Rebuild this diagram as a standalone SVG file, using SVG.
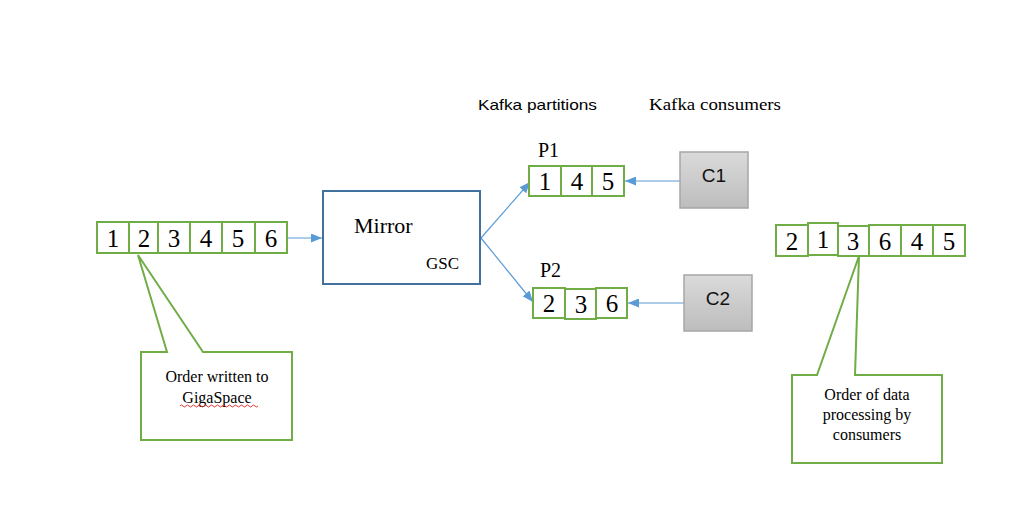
<svg xmlns="http://www.w3.org/2000/svg" width="1018" height="512" viewBox="0 0 1018 512">
<defs>
<linearGradient id="gray" x1="0" y1="0" x2="0" y2="1">
<stop offset="0" stop-color="#dadada"/>
<stop offset="1" stop-color="#bdbdbd"/>
</linearGradient>
<marker id="arr" markerWidth="11" markerHeight="9" refX="11" refY="4.5" orient="auto" markerUnits="userSpaceOnUse">
<path d="M0,0 L11,4.5 L0,9 z" fill="#5B9BD5"/>
</marker>
<style>
.serif{font-family:'Liberation Serif','DejaVu Serif',serif}
.cell{fill:#fff;stroke:#70AD47;stroke-width:2}
.num{font-size:25px;fill:#000;text-anchor:middle}
.call{fill:#fff;stroke:#70AD47;stroke-width:2}
.ctext{font-size:16px;fill:#000;text-anchor:middle}
.conn{stroke:#5B9BD5;stroke-width:1.2;fill:none}
.cons{fill:url(#gray);stroke:#a6a6a6;stroke-width:1.5}
.ctitle{font-family:'Liberation Sans',sans-serif;font-size:19px;fill:#111;text-anchor:middle}
</style>
</defs>
<rect width="1018" height="512" fill="#fff"/>

<text x="478" y="110" font-family="'Liberation Sans', sans-serif" font-size="15" textLength="119" lengthAdjust="spacingAndGlyphs">Kafka partitions</text>
<text class="serif" x="649" y="110" font-size="17" textLength="132" lengthAdjust="spacingAndGlyphs">Kafka consumers</text>

<g id="connectors">
<line class="conn" x1="287" y1="238" x2="322" y2="238" marker-end="url(#arr)"/>
<line class="conn" x1="481" y1="238" x2="530" y2="182" marker-end="url(#arr)"/>
<line class="conn" x1="481" y1="238" x2="533" y2="302" marker-end="url(#arr)"/>
<line class="conn" x1="680" y1="181" x2="625" y2="181" marker-end="url(#arr)"/>
<line class="conn" x1="684" y1="303" x2="628" y2="303" marker-end="url(#arr)"/>
</g>

<g id="input-sequence">
<rect class="cell" x="97" y="222" width="32" height="31"/>
<rect class="cell" x="129" y="222" width="29" height="31"/>
<rect class="cell" x="158" y="222" width="32" height="31"/>
<rect class="cell" x="190" y="222" width="32" height="31"/>
<rect class="cell" x="222" y="222" width="33" height="31"/>
<rect class="cell" x="255" y="222" width="32" height="31"/>
<text class="num serif" x="113" y="247">1</text>
<text class="num serif" x="144" y="247">2</text>
<text class="num serif" x="174" y="247">3</text>
<text class="num serif" x="206" y="247">4</text>
<text class="num serif" x="238" y="247">5</text>
<text class="num serif" x="271" y="247">6</text>
</g>

<g id="callout-left">
<path class="call" d="M141,352 L167,352 L138,255 L203,352 L292,352 L292,440 L141,440 Z"/>
<text class="ctext serif" x="217" y="382">Order written to</text>
<text class="ctext serif" x="217" y="403">GigaSpace</text>
<path d="M180,406 q1.5,-2 3,0 t3,0 t3,0 t3,0 t3,0 t3,0 t3,0 t3,0 t3,0 t3,0 t3,0 t3,0 t3,0 t3,0 t3,0 t3,0 t3,0 t3,0 t3,0 t3,0 t3,0 t3,0 t3,0 t3,0 t3,0 t3,0" fill="none" stroke="#e02020" stroke-width="0.9"/>
</g>

<g id="mirror">
<rect x="323" y="191" width="157" height="93" fill="#fff" stroke="#41719C" stroke-width="2"/>
<text class="serif" x="354" y="233" font-size="22">Mirror</text>
<text class="serif" x="426" y="269" font-size="17">GSC</text>
</g>

<g id="p1">
<text class="serif" x="538" y="157" font-size="20">P1</text>
<rect class="cell" x="529" y="166" width="32" height="30"/>
<rect class="cell" x="561" y="166" width="31" height="30"/>
<rect class="cell" x="592" y="166" width="32" height="30"/>
<text class="num serif" x="545" y="190">1</text>
<text class="num serif" x="577" y="190">4</text>
<text class="num serif" x="608" y="190">5</text>
</g>

<g id="p2">
<text class="serif" x="540" y="277" font-size="20">P2</text>
<rect class="cell" x="533" y="288" width="32" height="30"/>
<rect class="cell" x="565" y="289" width="31" height="30"/>
<rect class="cell" x="596" y="288" width="31" height="30"/>
<text class="num serif" x="549" y="312">2</text>
<text class="num serif" x="581" y="313">3</text>
<text class="num serif" x="612" y="312">6</text>
</g>

<g id="c1">
<rect class="cons" x="680" y="152" width="68" height="56"/>
<text class="ctitle" x="714" y="182">C1</text>
</g>

<g id="c2">
<rect class="cons" x="684" y="275" width="68" height="56"/>
<text class="ctitle" x="718" y="305">C2</text>
</g>

<g id="output-sequence">
<rect class="cell" x="776" y="225" width="32" height="31"/>
<rect class="cell" x="808" y="223" width="30" height="32"/>
<rect class="cell" x="838" y="226" width="31" height="30"/>
<rect class="cell" x="869" y="225" width="32" height="31"/>
<rect class="cell" x="901" y="225" width="32" height="31"/>
<rect class="cell" x="933" y="225" width="32" height="31"/>
<text class="num serif" x="792" y="250">2</text>
<text class="num serif" x="823" y="248">1</text>
<text class="num serif" x="853" y="250">3</text>
<text class="num serif" x="885" y="250">6</text>
<text class="num serif" x="917" y="250">4</text>
<text class="num serif" x="949" y="250">5</text>
</g>

<g id="callout-right">
<path class="call" d="M792,375 L817,375 L859,256 L855,375 L942,375 L942,463 L792,463 Z"/>
<text class="ctext serif" x="867" y="400">Order of data</text>
<text class="ctext serif" x="867" y="420">processing by</text>
<text class="ctext serif" x="867" y="440">consumers</text>
</g>
</svg>
